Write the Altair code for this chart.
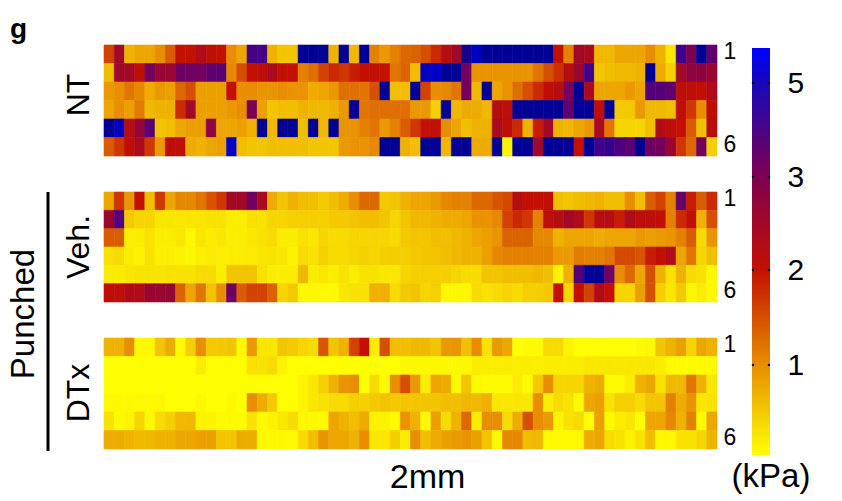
import altair as alt
import pandas as pd

N = 4.7  # saturated navy cells

nt_1 = [1.6,2.5,.7,.8,.8,1.0,1.4,2.0,2.0,2.3,2.1,2.0,1.0,.8,3.9,3.9,.7,.55,.55,N,N,N,.7,N,.65,N,1.1,.9,1.1,
        1.3,1.35,1.5,1.8,2.2,2.5,4.4,5.1,N,N,N,N,N,N,N,2.0,1.1,2.5,2.4,.65,.65,.8,.8,.8,1.0,.7,.25,4.0,3.0,N,3.5]
nt_2 = [.6,2.5,2.5,2.1,3.2,2.6,2.6,3.3,3.3,3.2,3.5,3.6,1.05,1.5,2.0,2.1,2.4,2.0,2.0,1.1,1.25,1.6,1.8,1.7,1.9,2.05,2.05,2.0,1.2,
        1.35,.6,5.1,5.2,N,N,3.2,.95,.95,.95,.95,.95,.95,1.2,1.5,1.75,2.2,2.6,4.0,.55,.6,.65,.65,.7,N,.75,.45,2.5,2.8,2.8,2.6]
nt_3 = [.9,1.0,1.2,1.05,.75,.9,.85,1.3,1.5,.85,.85,.85,2.0,1.0,1.0,.95,.95,1.0,.95,.95,.75,.8,.9,1.25,1.25,1.2,1.5,N,.6,
        .6,N,1.6,1.0,1.05,1.2,3.2,.65,N,.8,.95,1.25,1.5,1.8,2.1,2.2,3.2,N,2.4,.8,.8,.8,.9,.8,3.7,3.7,3.5,2.1,2.1,2.05,2.3]
nt_4 = [.8,1.0,.85,1.15,.65,.7,.7,1.8,2.5,.85,.85,.85,.9,1.0,3.1,.85,.55,.6,.6,.7,.65,.65,.7,.9,N,1.2,1.25,1.25,1.25,
        1.25,.9,.9,.45,N,.65,.75,.75,.65,2.2,2.1,N,N,N,N,N,3.5,N,N,2.1,N,.5,.5,.9,.65,.65,.6,2.1,1.7,1.0,2.1]
nt_5 = [N,5.1,2.2,2.7,3.6,.55,.6,.8,.85,.85,2.8,.8,.8,.85,.7,N,.65,N,N,.6,N,.65,N,.95,.95,1.1,1.2,.9,1.1,
        1.4,1.7,2.0,2.05,1.0,.8,.6,.7,.7,2.4,2.1,1.8,.7,1.9,2.5,.7,.65,.8,.9,2.4,1.2,.4,.4,.4,.6,2.3,2.1,2.0,1.4,.6,2.2]
nt_6 = [1.4,1.7,2.1,2.4,1.7,.9,2.1,2.1,.75,.7,.8,.85,5.2,.6,.55,.55,.6,.6,.6,.6,.55,.55,.55,.9,.95,.95,1.05,N,N,
        .7,.6,N,N,.65,N,N,.75,.75,N,.15,N,N,2.5,N,N,N,2.0,4.7,4.0,4.1,3.8,3.6,4.6,3.3,3.2,2.6,1.7,1.3,3.2,.45]

veh_1 = [.8,1.7,.95,2.0,.6,1.7,.8,1.05,1.05,1.2,1.45,1.7,2.5,2.5,3.3,2.4,.75,.55,.7,.6,.6,.5,.6,.75,1.0,1.3,1.3,.5,.55,
         .7,.8,.8,.9,1.05,1.1,1.1,1.3,1.3,1.45,1.55,2.2,2.0,2.0,2.05,.6,.55,.6,.65,.7,.6,.6,1.0,.6,1.4,1.6,1.1,3.4,1.9,1.4,1.8]
veh_2 = [2.6,3.8,.5,.4,.4,.25,.25,.25,.25,.25,.3,.3,.2,.2,.3,.3,.4,.4,.45,.45,.45,.45,.5,.5,.55,.6,.6,.55,.4,
         .55,.65,.65,.7,.75,.75,.8,.95,.95,1.05,1.6,1.8,1.7,1.1,2.1,2.2,2.5,2.3,1.7,2.2,2.2,1.9,2.3,2.1,2.1,2.05,1.1,1.8,2.05,.7,1.5]
veh_3 = [1.4,1.4,.2,.2,.3,.2,.2,.25,.12,.25,.2,.25,.2,.2,.25,.3,.35,.2,.2,.3,.25,.4,.35,.35,.4,.4,.4,.4,.35,
         .5,.55,.55,.6,.6,.65,.7,.8,.85,.95,1.35,1.35,1.35,1.05,1.05,.7,.8,.8,.8,.75,.8,.8,.8,.9,.85,.9,.95,1.1,1.4,.35,.95]
veh_4 = [.3,.35,.2,.15,.3,.18,.18,.15,.12,.18,.2,.2,.2,.2,.22,.25,.28,.25,.15,.35,.3,.45,.35,.35,.4,.45,.4,.45,.45,
         .45,.5,.55,.55,.6,.65,.7,.7,.85,1.05,1.1,1.1,1.1,1.1,1.1,.9,.9,1.15,1.1,1.1,1.2,1.55,1.55,1.45,1.9,2.05,2.3,.8,1.2,.4,.6]
veh_5 = [.22,.22,.25,.28,.28,.28,.3,.3,.3,.35,.35,.2,.55,.55,.55,.3,.2,.2,.2,.65,.2,.25,.2,.3,.2,.3,.3,.25,.25,
         .4,.45,.45,.45,.45,.4,.35,.35,.55,.55,.6,.6,.6,.65,.6,.15,.7,3.7,N,N,3.3,1.0,1.3,.8,1.5,.7,.3,.7,.35,.3,.1]
veh_6 = [2.1,2.1,2.3,2.3,2.6,2.6,2.7,1.35,.8,1.2,.55,1.0,3.3,1.4,1.6,1.6,1.35,.4,.5,.12,.12,.1,.1,.25,.3,.3,.7,.7,.35,
         .5,.55,.4,.45,.12,.12,.12,.35,.3,.35,.4,.35,.45,.45,.5,2.0,.4,2.0,1.6,2.3,2.0,.4,.4,.85,1.5,.45,.25,.5,.12,.2,.12]

dtx_1 = [.7,.7,1.0,.1,.1,.55,.75,.1,.45,1.0,.5,.5,.55,.1,.9,.25,.25,.55,.5,.4,.35,1.45,.55,.7,1.6,2.0,.2,1.5,.6,
         .6,.65,.65,.55,.9,.95,.6,1.0,.3,.9,.8,.05,.08,.08,.35,.35,.15,.05,.05,.05,.05,.05,.05,.08,.12,.55,.7,.85,.4,.8,.7]
dtx_2 = [.05,.05,.05,.05,.05,.05,.05,.05,.05,.2,.05,.05,.05,.05,.3,.3,.35,.15,.05,.05,.05,.05,.05,.05,.05,.05,.05,.05,.05,
         .12,.12,.12,.12,.12,.12,.12,.2,.2,.2,.2,.2,.2,.2,.2,.2,.2,.2,.25,.25,.25,.25,.25,.25,.25,.2,.1,.08,.08,.08,.08]
dtx_3 = [.05,.05,.05,.05,.05,.05,.05,.05,.05,.05,.05,.05,.05,.05,.05,.05,.05,.05,.05,.15,.25,.45,.7,.95,1.0,.05,.35,.08,1.0,
         1.5,.9,.2,.8,.75,.12,.55,.1,.08,.08,.08,.2,.08,.5,1.0,.4,.4,.4,.7,.75,.1,.1,.2,.7,.8,.3,.65,.65,1.2,.7,.25]
dtx_4 = [.1,.1,.1,.1,.1,.12,.05,.05,.05,.1,.05,.05,.1,.05,1.0,.75,.5,.05,.05,.15,.25,.3,.35,.35,.45,.45,.5,.55,.5,
         .55,.55,.55,.55,.6,.6,.65,.65,.7,.25,.25,.25,.25,1.0,.2,.35,.3,.08,.8,.85,.3,.45,.45,.35,.55,.55,1.1,.75,.95,.25,.3]
dtx_5 = [.3,.08,.15,.4,.1,.35,.45,.65,.65,.15,.15,.08,.08,.08,.3,.1,.15,.25,.35,.12,.1,.08,.8,.7,.6,.75,.15,.15,.08,
         .95,.7,.1,.85,.35,.7,1.3,.2,1.0,1.0,.35,.75,1.5,1.0,.9,.15,.3,.35,.05,.85,.1,.2,.25,.08,.8,.8,1.05,.7,1.1,.1,.8]
dtx_6 = [.75,.75,.7,.65,.65,.7,.7,.8,.8,.85,.85,.55,.55,.75,.75,.1,.1,.1,.1,.35,.6,.95,.8,.8,.7,1.0,.25,.25,.45,
         .2,1.0,.6,.75,.85,.9,.95,.85,.55,.1,1.05,1.05,.6,.65,.1,.1,.1,.1,.75,.8,.35,.3,.15,.3,.6,.1,.1,.3,.3,.4,.7]

panels = {"NT": [nt_1, nt_2, nt_3, nt_4, nt_5, nt_6],
          "Veh": [veh_1, veh_2, veh_3, veh_4, veh_5, veh_6],
          "DTx": [dtx_1, dtx_2, dtx_3, dtx_4, dtx_5, dtx_6]}

cell_domain = [0.05, 1, 2, 3, 4, 4.6, 5.1, 5.75]
cell_colors = ["#FFFF00", "#E88E00", "#C41000", "#800050", "#40008C", "#00008C", "#0000C0", "#0000FF"]
bar_ticks = [1, 2, 3, 5]
bar_domain = [0.05, 1, 2, 3, 5, 5.75]
bar_range = [410, 320, 225, 132, 38, 3]
bar_stops = [(0, "#FFFF00"), (0.22, "#E88E00"), (0.455, "#C41000"), (0.68, "#800050"), (0.91, "#1808B8"), (1, "#0000FF")]
FONT = "Liberation Sans"


def cells(name):
    rows = panels[name]
    return pd.DataFrame([{"col": c, "row": r + 1, "v": v}
                         for r, vals in enumerate(rows) for c, v in enumerate(vals)])


def label(text, x, y, angle=270, size=32, **kw):
    return alt.Chart(pd.DataFrame({"t": [text]})).mark_text(
        text=text, angle=angle, fontSize=size, font=FONT, color="black", **kw
    ).encode(x=alt.value(x), y=alt.value(y))


def heat(name, height, x_axis=None):
    scale = alt.Scale(domain=cell_domain, range=cell_colors, interpolate="rgb")
    return alt.Chart(cells(name)).mark_rect(strokeWidth=0.6).encode(
        x=alt.X("col:O", axis=x_axis, scale=alt.Scale(paddingInner=0, paddingOuter=0)),
        y=alt.Y("row:O", scale=alt.Scale(paddingInner=0, paddingOuter=0),
                axis=alt.Axis(orient="right", values=[1, 6], title=None, domain=False, ticks=False,
                              labelFontSize=23, labelFont=FONT, labelColor="black", labelAngle=0,
                              labelPadding=6, labelOffset=-2)),
        color=alt.Color("v:Q", legend=None, scale=scale),
        stroke=alt.Color("v:Q", legend=None, scale=scale),
    ).properties(width=613, height=height)


x2mm = alt.Axis(title="2mm", labels=False, ticks=False, domain=False, titleFontSize=34, titleFont=FONT,
                titleFontWeight="normal", titleColor="black", titleX=323, titleY=28, titleBaseline="middle")

p_nt = alt.layer(heat("NT", 111),
                 label("NT", -25, 50),
                 label("g", -94, -15, angle=0, size=28, fontWeight="bold", align="left"))
p_veh = alt.layer(heat("Veh", 110),
                  label("Veh.", -25, 55),
                  label("Punched", -80, 122, size=33),
                  alt.Chart(pd.DataFrame({"a": [0]})).mark_rule(color="black", strokeWidth=3).encode(
                      x=alt.value(-56), y=alt.value(0), y2=alt.value(259)))
p_dtx = alt.layer(heat("DTx", 111, x2mm), label("DTx", -25, 55))

left = alt.vconcat(p_nt, p_veh, p_dtx, spacing=36, bounds="flush")

bar_axis = alt.Axis(orient="right", values=bar_ticks, title=None, domain=False, ticks=False, grid=False,
                    labelFontSize=30, labelFont=FONT, labelColor="black", labelPadding=17)
bar_y = alt.Scale(domain=bar_domain, range=bar_range)
bar = alt.Chart(pd.DataFrame({"lo": [bar_domain[0]], "hi": [bar_domain[-1]]})).mark_rect(
    fill=alt.LinearGradient(gradient="linear", x1=0, x2=0, y1=1, y2=0,
                            stops=[alt.GradientStop(offset=o, color=c) for o, c in bar_stops])
).encode(
    x=alt.value(0), x2=alt.value(18),
    y=alt.Y("lo:Q", scale=bar_y, axis=bar_axis),
    y2="hi:Q",
)
ticks_df = pd.DataFrame({"t": bar_ticks})
dots = [alt.Chart(ticks_df).mark_square(size=5, color="black", opacity=1).encode(
    x=alt.value(px), y=alt.Y("t:Q", scale=bar_y, axis=bar_axis))
    for px in (1, 17)]
p_bar = alt.layer(bar, *dots, label("(kPa)", 19, 432, angle=0, size=33)).properties(width=18, height=410)

chart = alt.hconcat(left, p_bar, spacing=-5).properties(
    padding={"left": 0, "top": 8, "right": 0, "bottom": 0}
).configure_view(stroke=None)

chart.save("out.html", embed_options={"renderer": "svg", "actions": False})
